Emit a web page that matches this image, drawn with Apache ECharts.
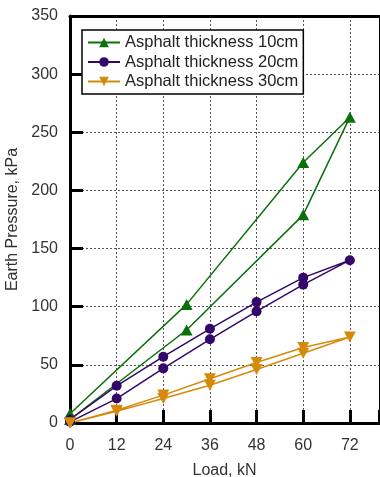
<!DOCTYPE html>
<html><head><meta charset="utf-8">
<script src="https://cdn.jsdelivr.net/npm/echarts@6/dist/echarts.min.js"></script>
<style>html,body{margin:0;padding:0;background:#fff}#c{width:380px;height:477px}</style>
</head><body><div id="c"></div>
<script>
var seriesNames = ['Asphalt thickness 10cm', 'Asphalt thickness 20cm', 'Asphalt thickness 30cm'];
var loadGreen = [0, 30, 60, 72, 60, 30, 0];
var pressGreen = [8, 102, 224, 263, 179, 80, 3];
var loadPurple = [0, 12, 24, 36, 48, 60, 72, 60, 48, 36, 24, 12, 0];
var pressPurple = [1, 21, 47, 72, 96, 119, 140, 125, 104, 81, 57, 32, 3];
var loadOrange = [0, 12, 24, 36, 48, 60, 72, 60, 48, 36, 24, 12, 0];
var pressOrange = [0, 10, 21, 32.5, 46, 60, 74, 65, 52, 38, 24, 11, 0];
var xTicks = [0, 12, 24, 36, 48, 60, 72];
var yTicks = [0, 50, 100, 150, 200, 250, 300, 350];

function pairs(xs, ys) { return xs.map(function (x, i) { return [x, ys[i]]; }); }
var font = 'Liberation Sans, Arial, sans-serif';
var colors = ['#0a700a', '#34086a', '#d68a0c'];

var chart = echarts.init(document.getElementById('c'), null, {renderer: 'canvas'});
var dotted = {show: true, lineStyle: {color: '#555', width: 1, type: [2, 2]}};
chart.setOption({
  animation: false,
  color: colors,
  grid: {left: 70, top: 16, right: 1, bottom: 54, outerBoundsMode: 'none', containLabel: false},
  legend: {
    orient: 'vertical', left: 82, top: 30,
    backgroundColor: '#fff', borderColor: '#000', borderWidth: 1.5,
    padding: [4, 5, 4, 5], itemWidth: 32, itemHeight: 12, itemGap: 2.5,
    textStyle: {fontFamily: font, fontSize: 16.5, color: '#222', lineHeight: 16},
    data: seriesNames
  },
  xAxis: [{
    type: 'value', min: 0, max: 79.5, interval: 12,
    name: 'Load, kN', nameLocation: 'middle', nameGap: 40,
    nameTextStyle: {fontFamily: font, fontSize: 16, color: '#333'},
    axisLine: {show: true, onZero: false, lineStyle: {color: '#000', width: 3}},
    axisTick: {show: true, inside: true, length: 13, lineStyle: {color: '#000', width: 3}},
    axisLabel: {fontFamily: font, fontSize: 16, color: '#333', margin: 15,
      formatter: function (v) { return xTicks.indexOf(v) >= 0 ? String(v) : ''; }},
    splitLine: dotted
  }, {
    type: 'value', min: 0, max: 79.5, position: 'top',
    axisLine: {show: true, onZero: false, lineStyle: {color: '#000', width: 3}},
    axisTick: {show: false}, axisLabel: {show: false}, splitLine: {show: false}
  }],
  yAxis: [{
    type: 'value', min: 0, max: 350, interval: 50,
    name: 'Earth Pressure, kPa', nameLocation: 'middle', nameGap: 47,
    nameTextStyle: {fontFamily: font, fontSize: 16, color: '#333'},
    axisLine: {show: true, onZero: false, lineStyle: {color: '#000', width: 3}},
    axisTick: {show: true, inside: true, length: 13, lineStyle: {color: '#000', width: 3}},
    axisLabel: {fontFamily: font, fontSize: 16, color: '#333', margin: 12,
      formatter: function (v) { return yTicks.indexOf(v) >= 0 ? String(v) : ''; }},
    splitLine: dotted
  }, {
    type: 'value', min: 0, max: 350, position: 'right',
    axisLine: {show: true, onZero: false, lineStyle: {color: '#000', width: 1}},
    axisTick: {show: false}, axisLabel: {show: false}, splitLine: {show: false}
  }],
  series: [
    {name: seriesNames[0], type: 'line', data: pairs(loadGreen, pressGreen),
     symbol: 'triangle', symbolSize: [12, 11], lineStyle: {width: 1.5}, itemStyle: {color: colors[0]}},
    {name: seriesNames[1], type: 'line', data: pairs(loadPurple, pressPurple),
     symbol: 'circle', symbolSize: 10, lineStyle: {width: 1.5}, itemStyle: {color: colors[1]}},
    {name: seriesNames[2], type: 'line', data: pairs(loadOrange, pressOrange),
     symbol: 'triangle', symbolRotate: 180, symbolSize: [12, 11], lineStyle: {width: 1.5}, itemStyle: {color: colors[2]}}
  ]
});
</script></body></html>
